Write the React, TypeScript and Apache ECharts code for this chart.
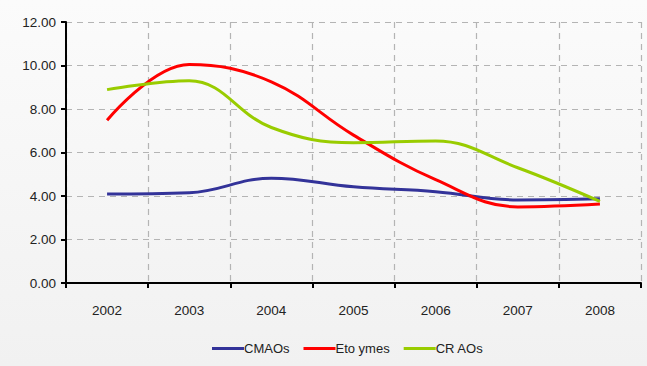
import React, { useEffect, useRef } from "react";
import * as echarts from "echarts";

const categories = ["2002", "2003", "2004", "2005", "2006", "2007", "2008"];
const cmaos = [4.09, 4.15, 4.82, 4.42, 4.2, 3.82, 3.87];
const etoymes = [7.48, 10.05, 9.25, 6.8, 4.75, 3.5, 3.63];
const craos = [8.89, 9.3, 7.15, 6.45, 6.53, 5.3, 3.75];
const yTicks = { min: 0, max: 12, interval: 2 };

const FONT = "'Liberation Sans Narrow', 'Liberation Sans', Arial, sans-serif";

export default function App() {
  const ref = useRef<HTMLDivElement>(null);
  useEffect(() => {
    if (!ref.current) return;
    const chart = echarts.init(ref.current, null, { renderer: "svg" });
    const mk = (name: string, data: number[], color: string) => ({
      name,
      type: "line",
      data,
      smooth: 0.4,
      symbol: "none",
      lineStyle: { color, width: 3 },
      itemStyle: { color },
    });
    chart.setOption({
      animation: false,
      backgroundColor: "transparent",
      grid: { left: 66, right: 6, top: 22, bottom: 83 },
      legend: {
        bottom: 6,
        left: 207,
        itemWidth: 32,
        itemHeight: 3,
        itemGap: 14,
        icon: "rect",
        textStyle: { fontFamily: FONT, fontSize: 13, color: "#222", padding: [0, 0, 0, -5] },
        data: ["CMAOs", "Eto ymes", "CR AOs"],
      },
      xAxis: {
        type: "category",
        data: categories,
        boundaryGap: true,
        axisLine: { lineStyle: { color: "#000", width: 2 } },
        axisTick: { show: true, length: 5, lineStyle: { color: "#000", width: 2 } },
        axisLabel: { fontFamily: FONT, fontSize: 13.5, color: "#222", margin: 20 },
        splitLine: { show: true, lineStyle: { color: "#b4b4b4", type: [6, 5], width: 1.2 } },
      },
      yAxis: {
        type: "value",
        min: yTicks.min,
        max: yTicks.max,
        interval: yTicks.interval,
        axisLine: { show: true, lineStyle: { color: "#000", width: 2 } },
        axisTick: { show: true, length: 5, lineStyle: { color: "#000", width: 2 } },
        axisLabel: {
          fontFamily: FONT,
          fontSize: 13.5,
          color: "#222",
          margin: 10,
          formatter: (v: number) => v.toFixed(2),
        },
        splitLine: { show: true, lineStyle: { color: "#b4b4b4", type: [6, 5], width: 1.2 } },
      },
      series: [
        mk("CMAOs", cmaos, "#333399"),
        mk("Eto ymes", etoymes, "#ff0000"),
        mk("CR AOs", craos, "#99cc00"),
      ],
    });
    return () => chart.dispose();
  }, []);
  return (
    <div
      style={{
        position: "fixed",
        left: 0,
        top: 0,
        width: 647,
        height: 366,
        background: "linear-gradient(#fbfbfb, #f1f1f1)",
      }}
    >
      <div ref={ref} style={{ width: 647, height: 366 }} />
    </div>
  );
}
